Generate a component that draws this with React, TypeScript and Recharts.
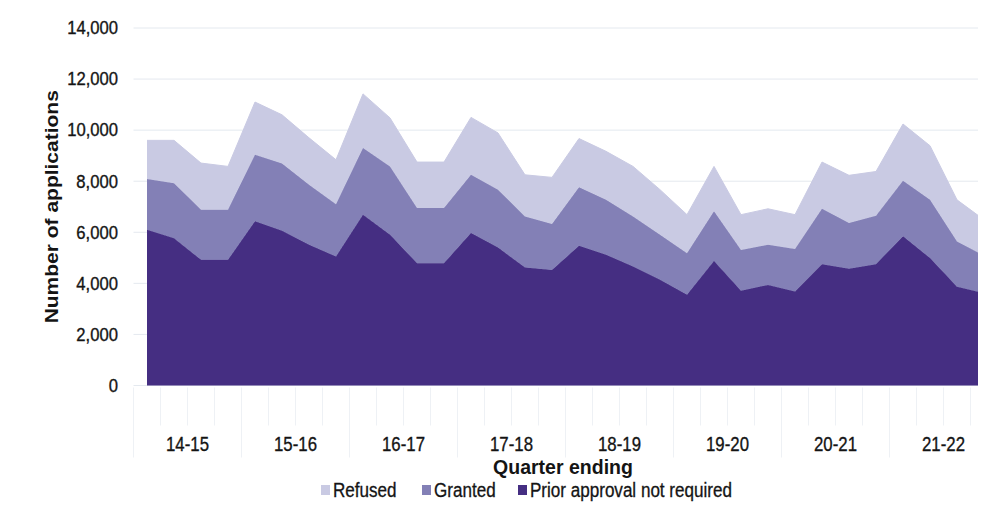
import { AreaChart, Area, XAxis, YAxis, CartesianGrid, Legend } from 'recharts';

// financial years, four quarters each
const years = ['14-15', '15-16', '16-17', '17-18', '18-19', '19-20', '20-21', '21-22'];
const quarterMonths = ['Jun', 'Sep', 'Dec', 'Mar'];

const priorApproval = [
  6100, 5770, 4920, 4920, 6430, 6060, 5510, 5050,
  6690, 5900, 4790, 4790, 5970, 5400, 4620, 4520,
  5470, 5120, 4660, 4140, 3550, 4880, 3710, 3940,
  3680, 4750, 4570, 4750, 5840, 4990, 3870, 3620,
];
const granted = [
  1990, 2150, 1960, 1960, 2610, 2630, 2350, 2050,
  2610, 2680, 2160, 2160, 2280, 2270, 2000, 1800,
  2290, 2150, 1960, 1760, 1630, 1940, 1600, 1570,
  1670, 2170, 1790, 1900, 2180, 2280, 1770, 1470,
];
const refused = [
  1510, 1680, 1830, 1700, 2060, 1910, 1840, 1740,
  2120, 1900, 1800, 1800, 2250, 2220, 1630, 1830,
  1910, 1900, 1960, 1770, 1510, 1760, 1380, 1410,
  1340, 1830, 1870, 1730, 2220, 2120, 1630, 1400,
];
const yTicks = [0, 2000, 4000, 6000, 8000, 10000, 12000, 14000];

const quarters = years.flatMap((fy) => {
  const [a, b] = fy.split('-');
  return quarterMonths.map((m, i) => `${m} ${i < 3 ? a : b}`);
});

const data = quarters.map((q, i) => ({
  quarter: q,
  year: years[Math.floor(i / 4)],
  prior: priorApproval[i],
  granted: granted[i],
  refused: refused[i],
}));

const DARK = '#452e82';
const MID = '#8380b6';
const LIGHT = '#c9cae3';
const TEXT = '#141414';
const FONT = "'Liberation Sans', Arial, sans-serif";
const HALF_SLOT = 13.5;

const YTick = (props: any) => {
  const { x, y, payload } = props;
  return (
    <text
      transform={`translate(${x},${y}) scale(0.9,1)`}
      textAnchor="end"
      dominantBaseline="central"
      fontSize={18.5}
      fontFamily={FONT}
      fill={TEXT}
      stroke={TEXT}
      strokeWidth={0.35}
    >
      {Number(payload.value).toLocaleString('en-US')}
    </text>
  );
};

const XTick = (props: any) => {
  const { x, y, payload } = props;
  const i = payload?.index ?? props.index;
  const lineColor = '#eef1f5';
  return (
    <g>
      {i === 0 && <line x1={x - HALF_SLOT} x2={x - HALF_SLOT} y1={y + 2} y2={y + 72} stroke={lineColor} />}
      <line
        x1={x + HALF_SLOT}
        x2={x + HALF_SLOT}
        y1={y + 2}
        y2={i % 4 === 3 ? y + 72 : y + 40}
        stroke={lineColor}
      />
      {i % 4 === 1 && (
        <text
          transform={`translate(${x + HALF_SLOT},${y + 65.5}) scale(0.8,1)`}
          textAnchor="middle"
          fontSize={21}
          fontFamily={FONT}
          fill={TEXT}
          stroke={TEXT}
          strokeWidth={0.35}
        >
          {data[i].year}
        </text>
      )}
    </g>
  );
};

const YTitle = (props: any) => {
  const { viewBox } = props;
  const cy = viewBox.y + viewBox.height / 2;
  return (
    <text
      transform={`translate(51.5,${cy}) rotate(-90) scale(1,0.88)`}
      textAnchor="middle"
      dominantBaseline="central"
      fontSize={21}
      fontWeight="bold"
      fontFamily={FONT}
      fill={TEXT}
    >
      Number of applications
    </text>
  );
};

const XTitle = () => (
  <text x={563} y={474} textAnchor="middle" fontSize={19.5} fontWeight="bold" fontFamily={FONT} fill={TEXT}>
    Quarter ending
  </text>
);

const legendItems = [
  { label: 'Refused', color: LIGHT, x: 321 },
  { label: 'Granted', color: MID, x: 422 },
  { label: 'Prior approval not required', color: DARK, x: 518 },
];

const LegendContent = () => (
  <svg width={986} height={26}>
    {legendItems.map((it) => (
      <g key={it.label}>
        <rect x={it.x} y={5} width={9} height={10} fill={it.color} />
        <text
          transform={`translate(${it.x + 12},17) scale(0.875,1)`}
          fontSize={19.5}
          fontFamily={FONT}
          fill={TEXT}
          stroke={TEXT}
          strokeWidth={0.3}
        >
          {it.label}
        </text>
      </g>
    ))}
  </svg>
);

export default function App() {
  return (
    <div style={{ width: 986, height: 510, margin: -8, overflow: 'hidden', position: 'relative', background: '#fff' }}>
      <AreaChart width={1000} height={510} data={data} margin={{ top: 28, right: 2.5, left: 0, bottom: 0 }}>
        <CartesianGrid vertical={false} stroke="#e4e9ef" />
        <XAxis
          dataKey="quarter"
          interval={0}
          axisLine={false}
          tickLine={false}
          tickSize={0}
          tickMargin={0}
          height={124.5}
          padding={{ left: HALF_SLOT, right: HALF_SLOT }}
          tick={<XTick />}
          label={{ content: <XTitle /> }}
        />
        <YAxis
          width={133.5}
          domain={[0, 14000]}
          ticks={yTicks}
          axisLine={false}
          tickLine={false}
          tickSize={0}
          tickMargin={15.5}
          tick={<YTick />}
          label={{ content: <YTitle /> }}
        />
        <Legend
          layout="horizontal"
          verticalAlign="middle"
          align="center"
          wrapperStyle={{ top: 480, left: 0, width: 986, height: 26 }}
          content={<LegendContent />}
        />
        <Area type="linear" dataKey="prior" name="Prior approval not required" stackId="1" stroke={DARK} fill={DARK} fillOpacity={1} isAnimationActive={false} />
        <Area type="linear" dataKey="granted" name="Granted" stackId="1" stroke={MID} fill={MID} fillOpacity={1} isAnimationActive={false} />
        <Area type="linear" dataKey="refused" name="Refused" stackId="1" stroke={LIGHT} fill={LIGHT} fillOpacity={1} isAnimationActive={false} />
      </AreaChart>
    </div>
  );
}
